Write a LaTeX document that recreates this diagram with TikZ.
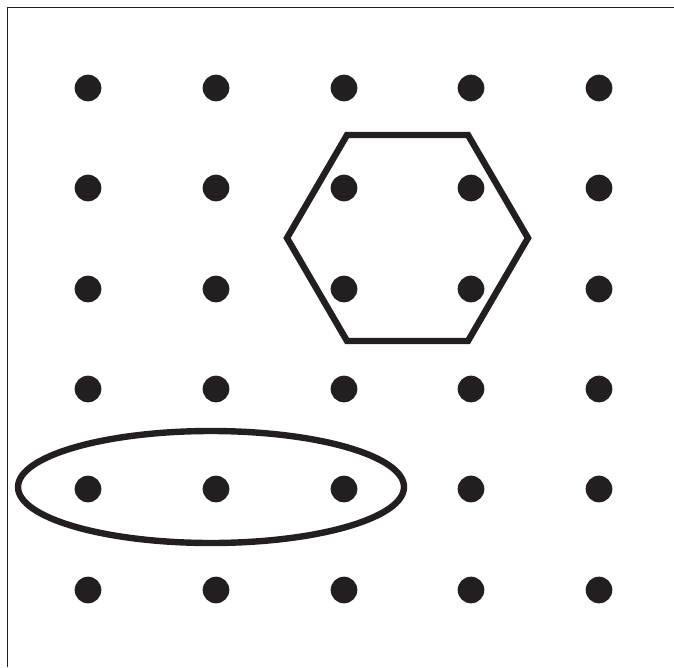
\documentclass[tikz,border=0pt]{standalone}
\begin{document}
\begin{tikzpicture}[x=0.75pt,y=-0.75pt,
  dot/.style={circle,fill=ink,inner sep=0pt,minimum size=20pt},
  shape line/.style={draw=ink,line width=4.8pt,line join=miter}]
\definecolor{ink}{HTML}{231F20}
\useasboundingbox (0,0) rectangle (674,667);
\fill[white] (0,0) rectangle (674,667);
\draw[ink,line width=1.4pt] (7.5,667) -- (7.5,7.5) -- (674,7.5);
\foreach \c/\x in {1/88,2/216,3/344,4/471,5/599}{
  \foreach \r/\y in {1/88,2/188,3/289,4/389,5/489,6/590}{
    \node[dot] (d\r\c) at (\x,\y) {};
  }
}
\draw[shape line] (347,135) -- (468,135) -- (528,238) -- (468,341) -- (347,341) -- (287,238) -- cycle;
\draw[shape line] (211,487) ellipse [x radius=193, y radius=56];
\end{tikzpicture}
\end{document}
